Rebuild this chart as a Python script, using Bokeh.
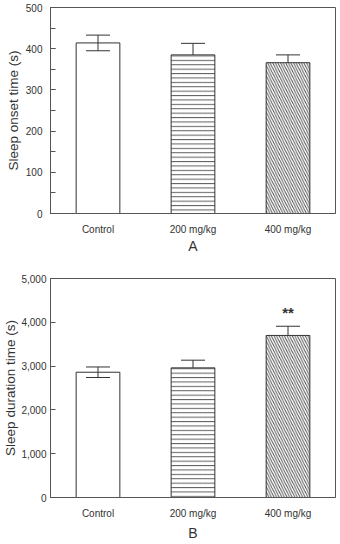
from bokeh.plotting import figure
from bokeh.layouts import column
from bokeh.models import (ColumnDataSource, Whisker, TeeHead, SingleIntervalTicker,
                          NumeralTickFormatter, Range1d, FactorRange)
from bokeh.embed import file_html
from bokeh.resources import INLINE
from bokeh.core.properties import value

# Groups and measured values (mean ± SEM)
groups = ["Control", "200 mg/kg", "400 mg/kg"]
onset_mean = [414, 385, 366]
onset_sem = [19, 28, 19]
duration_mean = [2860, 2960, 3700]
duration_sem = [120, 175, 210]
duration_marks = ["", "", "**"]

patterns = [" ", "-", "\\"]
fill_alpha = [0.0, 1.0, 1.0]
hatch_scale = [4, 4.4, 5.2]

FONT = "Liberation Sans"
INK = "#333333"
EDGE = "#555555"


def panel(title, ylabel, means, sems, ymax, step, minor, height, top_border, fmt,
          tick_standoff, label_standoff, title_standoff):
    src = ColumnDataSource(dict(
        x=groups, top=means,
        upper=[m + s for m, s in zip(means, sems)],
        lower=[m - s for m, s in zip(means, sems)],
        pat=patterns, fa=fill_alpha, hs=hatch_scale,
    ))
    p = figure(x_range=FactorRange(*groups, range_padding=0), y_range=Range1d(0, ymax),
               width=340, height=height, output_backend="svg", toolbar_location=None,
               min_border_left=49, min_border_right=5, min_border_top=top_border,
               min_border_bottom=47)
    p.grid.visible = False
    p.outline_line_color = EDGE
    p.outline_line_width = 1

    w = Whisker(source=src, base="x", upper="upper", lower="lower", dimension="height",
                line_color=INK, line_width=1,
                upper_head=TeeHead(size=24, line_color=INK, line_width=1),
                lower_head=TeeHead(size=24, line_color=INK, line_width=1))
    w.level = "underlay"
    p.add_layout(w)

    p.vbar(x="x", top="top", width=0.46, source=src, fill_color="white",
           fill_alpha="fa", line_color=INK, line_width=1,
           hatch_pattern="pat", hatch_color="#4a4a4a", hatch_scale="hs", hatch_weight=0.9)

    ya = p.yaxis[0]
    ya.ticker = SingleIntervalTicker(interval=step, num_minor_ticks=minor)
    ya.formatter = NumeralTickFormatter(format=fmt)
    ya.axis_line_color = EDGE
    ya.major_tick_in = 5
    ya.major_tick_out = 0
    ya.minor_tick_in = 5 if minor > 1 else 0
    ya.minor_tick_out = 0
    ya.major_tick_line_color = EDGE
    ya.minor_tick_line_color = EDGE
    ya.major_label_text_font = FONT
    ya.major_label_text_font_size = "10px"
    ya.major_label_text_color = INK
    ya.major_label_standoff = tick_standoff
    ya.axis_label = ylabel
    ya.axis_label_text_font = FONT
    ya.axis_label_text_font_size = "13.5px"
    ya.axis_label_text_font_style = "normal"
    ya.axis_label_text_color = INK
    ya.axis_label_standoff = label_standoff

    xa = p.xaxis[0]
    xa.axis_line_color = EDGE
    xa.major_tick_line_color = None
    xa.minor_tick_line_color = None
    xa.major_tick_in = 0
    xa.major_tick_out = 0
    xa.major_label_text_font = FONT
    xa.major_label_text_font_size = "10px"
    xa.major_label_text_color = INK
    xa.major_label_standoff = 10
    xa.axis_label = title
    xa.axis_label_text_font = FONT
    xa.axis_label_text_font_size = "14px"
    xa.axis_label_text_font_style = "normal"
    xa.axis_label_text_color = INK
    xa.axis_label_standoff = title_standoff
    return p, src


pa, _ = panel("A", "Sleep onset time (s)", onset_mean, onset_sem, 500, 100, 2, 260, 7, "0",
              8, 2, 0)
pb, src_b = panel("B", "Sleep duration time (s)", duration_mean, duration_sem, 5000, 1000, 1,
                  284, 18, "0,0", 4, 0, 3)
src_b.data["mark"] = duration_marks
pb.text(x="x", y="upper", text="mark", source=src_b, text_align="center",
        text_baseline="bottom", y_offset=-5, text_font=value(FONT),
        text_font_size="15px", text_font_style="bold", text_color=INK)

layout = column(pa, pb, spacing=0)
open("out.html", "w").write(file_html(layout, INLINE))
